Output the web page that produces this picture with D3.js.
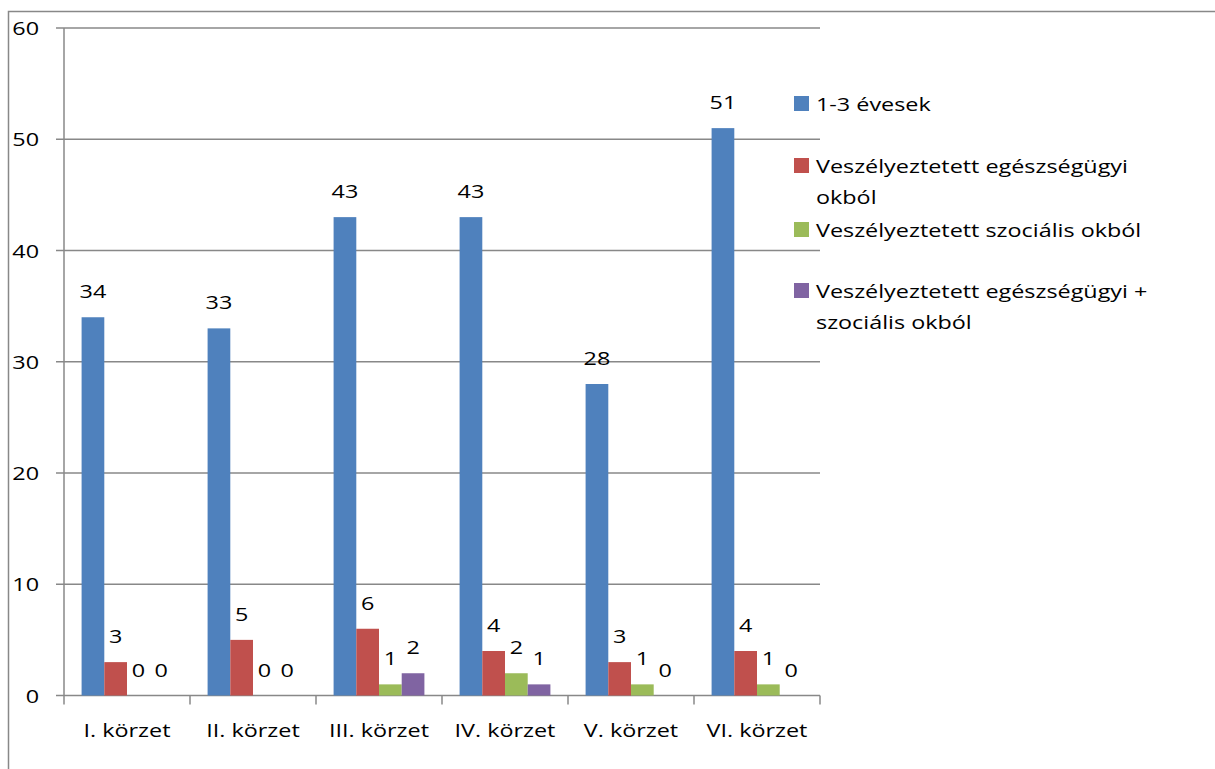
<!DOCTYPE html>
<html>
<head>
<meta charset="utf-8">
<script src="https://cdn.jsdelivr.net/npm/d3@7"></script>
<style>
  body { margin: 0; background: #fff; }
  text { font-family: "Open Sans", sans-serif; fill: #000; font-size: 19px; }
</style>
</head>
<body>
<div class="chart"></div>
<script>
// kategóriák és sorozatok
var categories = ["I. körzet", "II. körzet", "III. körzet", "IV. körzet", "V. körzet", "VI. körzet"];
var seriesNames = [
  ["1-3 évesek"],
  ["Veszélyeztetett egészségügyi", "okból"],
  ["Veszélyeztetett szociális okból"],
  ["Veszélyeztetett egészségügyi +", "szociális okból"]
];
var eves = [34, 33, 43, 43, 28, 51];
var egeszseg = [3, 5, 6, 4, 3, 4];
var szocialis = [0, 0, 1, 2, 1, 1];
var mindketto = [0, 0, 2, 1, 0, 0];
var yTicks = [0, 10, 20, 30, 40, 50, 60];

var colors = ["#4F81BD", "#C0504D", "#9BBB59", "#8064A2"];
var series = [eves, egeszseg, szocialis, mindketto];

var W = 1215, H = 769;
var SX = 1.23; // the reference text is stretched wide
var margin = {top: 28, left: 64},
    width = 820 - margin.left,
    height = 695.5 - margin.top;

function place(x, y){ return "translate(" + x + "," + y + ") scale(" + SX + ",1)"; }

var svg = d3.select(".chart").append("svg")
    .attr("width", W)
    .attr("height", H);

// keret
svg.append("rect")
    .attr("x", 8.5).attr("y", 11.5)
    .attr("width", W + 20).attr("height", H + 20)
    .attr("fill", "none")
    .attr("stroke", "#888")
    .attr("stroke-width", 1.5);

var g = svg.append("g")
    .attr("transform", "translate(" + margin.left + "," + margin.top + ")");

var step = width / categories.length;
// bar width: 4 bars + 150% gap
var bw = step / 5.55;
var x1 = d3.scaleBand()
    .domain(d3.range(series.length))
    .range([0, bw * 4]);

var y = d3.scaleLinear()
    .domain([0, 60])
    .range([height, 0]);

// rácsvonalak
g.selectAll(".grid")
    .data(yTicks)
  .enter().append("line")
    .attr("x1", -8)
    .attr("x2", width)
    .attr("y1", function(d){ return y(d); })
    .attr("y2", function(d){ return y(d); })
    .attr("stroke", "#888")
    .attr("stroke-width", 1.5);

// y tengely
g.append("line")
    .attr("x1", 0).attr("x2", 0)
    .attr("y1", 0).attr("y2", height)
    .attr("stroke", "#888")
    .attr("stroke-width", 1.5);

g.selectAll(".ylab")
    .data(yTicks)
  .enter().append("text")
    .attr("transform", function(d){ return place(-25, y(d) + 7); })
    .attr("text-anchor", "end")
    .text(function(d){ return d; });

// x tengely tickek
g.selectAll(".xtick")
    .data(d3.range(categories.length + 1))
  .enter().append("line")
    .attr("x1", function(d){ return d * step; })
    .attr("x2", function(d){ return d * step; })
    .attr("y1", height)
    .attr("y2", height + 9)
    .attr("stroke", "#888")
    .attr("stroke-width", 1.5);

g.selectAll(".xlab")
    .data(categories)
  .enter().append("text")
    .attr("transform", function(d, i){ return place((i + 0.5) * step, height + 41); })
    .attr("text-anchor", "middle")
    .text(function(d){ return d; });

// oszlopok
var groups = g.selectAll(".cat")
    .data(categories)
  .enter().append("g")
    .attr("transform", function(d, i){ return "translate(" + (i * step + bw * 0.775) + ",0)"; });

series.forEach(function(s, si){
  groups.append("rect")
      .attr("x", x1(si))
      .attr("width", x1.bandwidth())
      .attr("y", function(d, i){ return y(s[i]); })
      .attr("height", function(d, i){ return height - y(s[i]); })
      .attr("fill", colors[si]);

  groups.append("text")
      .attr("transform", function(d, i){ return place(x1(si) + x1.bandwidth() / 2, y(s[i]) - 19); })
      .attr("text-anchor", "middle")
      .text(function(d, i){ return s[i]; });
});

// jelmagyarázat
var legendY = [104, 166, 230, 291];
var legend = svg.selectAll(".legend")
    .data(seriesNames)
  .enter().append("g")
    .attr("transform", function(d, i){ return "translate(794," + legendY[i] + ")"; });

legend.append("rect")
    .attr("x", 0).attr("y", -8)
    .attr("width", 15).attr("height", 15)
    .attr("fill", function(d, i){ return colors[i]; });

legend.each(function(d){
  var t = d3.select(this).append("text")
      .attr("transform", place(22, 7));
  d.forEach(function(line, li){
    t.append("tspan")
        .attr("x", 0)
        .attr("dy", li === 0 ? 0 : 31)
        .text(line);
  });
});
</script>
</body>
</html>
